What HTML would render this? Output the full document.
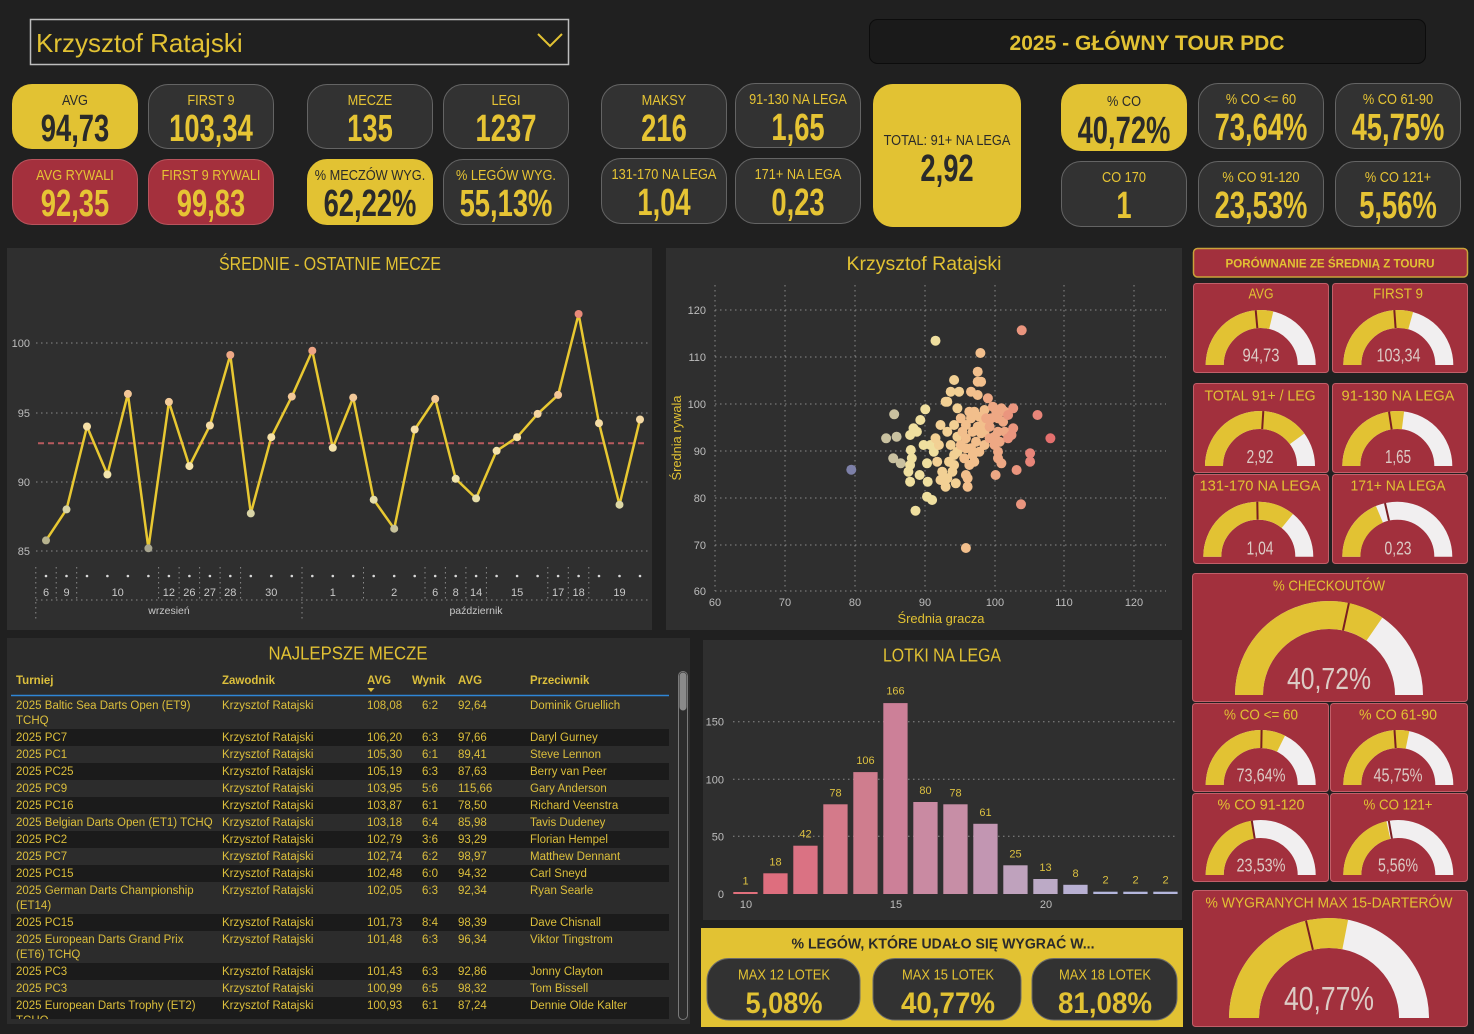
<!DOCTYPE html>
<html><head><meta charset="utf-8">
<style>
body{margin:0;width:1474px;height:1034px;background:#202020;position:relative;overflow:hidden;font-family:"Liberation Sans","DejaVu Sans",sans-serif;}
.a{position:absolute}
.card{position:absolute;border-radius:20px;box-sizing:border-box;text-align:center;color:#e6c434}
.dk{background:#323232;border:1.5px solid #646464}
.yl{background:#e2c233;color:#2a2a2a;border:1.5px solid #e2c233}
.rd{background:#a4303d;border:1.5px solid #b9545d}
.kl{position:absolute;left:-30px;right:-30px;top:7px;font-size:15px;line-height:18px;transform:scaleX(0.85);white-space:nowrap}
.kv{position:absolute;left:-40px;right:-40px;top:25px;font-size:38px;line-height:38px;font-weight:bold;transform:scaleX(0.72);white-space:nowrap}
.tb{position:absolute;left:11px;top:697px;width:658px;height:322px;overflow:hidden;font-size:11.5px;line-height:15px;color:#dcbf3c}
.tr{position:absolute;left:0;width:658px;padding-top:1.5px;box-sizing:border-box}
.tr span{position:absolute;white-space:nowrap}
.dr{background:#1b1b1b}
.c1{left:5px}.c2{left:211px}.c3{left:356px}.c4{left:395px;width:48px;text-align:center}.c5{left:447px}.c6{left:519px}
.th{position:absolute;top:674px;font-size:11.5px;line-height:15px;font-weight:bold;color:#dcbf3c;white-space:nowrap}
</style></head><body>

<svg class="a" style="left:0;top:0" width="1474" height="1034" viewBox="0 0 1474 1034" font-family="Liberation Sans, DejaVu Sans, sans-serif">
<!-- dropdown -->
<rect x="30.5" y="19.5" width="538" height="45" fill="none" stroke="#bdbdbd" stroke-width="1.5"/>
<polyline points="538,34 550,46 562,34" fill="none" stroke="#e2c233" stroke-width="2"/>
<!-- title box -->
<rect x="869.5" y="19.5" width="556" height="44" rx="8" fill="#1a1a1a" stroke="#0c0c0c"/>
<text x="1147" y="50" text-anchor="middle" font-size="21" font-weight="bold" fill="#e2c233" textLength="275" lengthAdjust="spacingAndGlyphs">2025 - GŁÓWNY TOUR PDC</text>

<!-- LINE CHART PANEL -->
<rect x="7" y="248" width="645" height="382" fill="#2f2f2f"/>
<text x="330" y="270" text-anchor="middle" font-size="18" fill="#e2c233" textLength="222" lengthAdjust="spacingAndGlyphs">ŚREDNIE - OSTATNIE MECZE</text>
<g stroke="#8a8a8a" stroke-dasharray="1.5 3.5" stroke-width="1">
<line x1="36" y1="343" x2="648" y2="343"/><line x1="36" y1="413" x2="648" y2="413"/><line x1="36" y1="482" x2="648" y2="482"/><line x1="36" y1="551" x2="648" y2="551"/>
<line x1="36" y1="600" x2="648" y2="600"/>
<line x1="35.8" y1="567" x2="35.8" y2="621"/><line x1="302" y1="567" x2="302" y2="621"/>
<line x1="56.2" y1="567" x2="56.2" y2="600"/><line x1="76.7" y1="567" x2="76.7" y2="600"/><line x1="158.6" y1="567" x2="158.6" y2="600"/><line x1="179.1" y1="567" x2="179.1" y2="600"/><line x1="199.6" y1="567" x2="199.6" y2="600"/><line x1="220.1" y1="567" x2="220.1" y2="600"/><line x1="240.6" y1="567" x2="240.6" y2="600"/><line x1="363.5" y1="567" x2="363.5" y2="600"/><line x1="425" y1="567" x2="425" y2="600"/><line x1="445.4" y1="567" x2="445.4" y2="600"/><line x1="465.9" y1="567" x2="465.9" y2="600"/><line x1="486.4" y1="567" x2="486.4" y2="600"/><line x1="547.8" y1="567" x2="547.8" y2="600"/><line x1="568.3" y1="567" x2="568.3" y2="600"/><line x1="588.8" y1="567" x2="588.8" y2="600"/>
</g>
<g font-size="11" fill="#bdbdbd" text-anchor="end">
<text x="30" y="347">100</text><text x="30" y="417">95</text><text x="30" y="486">90</text><text x="30" y="555">85</text>
</g>
<line x1="38" y1="443.3" x2="648" y2="443.3" stroke="#b85a5e" stroke-width="2" stroke-dasharray="6 4"/>
<polyline fill="none" stroke="#e8c832" stroke-width="2.5" stroke-linejoin="round" points="46,540.4 66.5,509.4 87,426.5 107.4,474.5 127.9,393.9 148.4,548.3 168.9,401.9 189.4,466.1 209.9,425.5 230.3,355 250.8,513.4 271.3,437.2 291.8,396.6 312.3,350.7 332.8,447.8 353.2,397.6 373.7,499.7 394.2,528.7 414.7,429.5 435.2,398.9 455.7,478.8 476.1,498.4 496.6,450.8 517.1,437.2 537.6,413.9 558.1,394.9 578.6,314 599,423.2 619.5,504.7 640,419.5"/>
<g>
<circle cx="46" cy="540.4" r="4" fill="#b7b38f"/><circle cx="66.5" cy="509.4" r="4" fill="#d7d3a5"/><circle cx="87" cy="426.5" r="4" fill="#f6e0a6"/><circle cx="107.4" cy="474.5" r="4" fill="#f3e5ad"/><circle cx="127.9" cy="393.9" r="4" fill="#f2c596"/><circle cx="148.4" cy="548.3" r="4" fill="#a8a690"/><circle cx="168.9" cy="401.9" r="4" fill="#f3cb9a"/><circle cx="189.4" cy="466.1" r="4" fill="#f5e3ab"/><circle cx="209.9" cy="425.5" r="4" fill="#f5dca5"/><circle cx="230.3" cy="355" r="4" fill="#eea886"/><circle cx="250.8" cy="513.4" r="4" fill="#d9d4a6"/><circle cx="271.3" cy="437.2" r="4" fill="#f5e1a8"/><circle cx="291.8" cy="396.6" r="4" fill="#f2c898"/><circle cx="312.3" cy="350.7" r="4" fill="#eda485"/><circle cx="332.8" cy="447.8" r="4" fill="#f5e3aa"/><circle cx="353.2" cy="397.6" r="4" fill="#f2c898"/><circle cx="373.7" cy="499.7" r="4" fill="#e5dda8"/><circle cx="394.2" cy="528.7" r="4" fill="#c7c29b"/><circle cx="414.7" cy="429.5" r="4" fill="#f5dea7"/><circle cx="435.2" cy="398.9" r="4" fill="#f2c898"/><circle cx="455.7" cy="478.8" r="4" fill="#f0e4ab"/><circle cx="476.1" cy="498.4" r="4" fill="#e5dda8"/><circle cx="496.6" cy="450.8" r="4" fill="#f5e3aa"/><circle cx="517.1" cy="437.2" r="4" fill="#f5e1a8"/><circle cx="537.6" cy="413.9" r="4" fill="#f4d5a0"/><circle cx="558.1" cy="394.9" r="4" fill="#f2c596"/><circle cx="578.6" cy="314" r="4" fill="#e88a7a"/><circle cx="599" cy="423.2" r="4" fill="#f5dca5"/><circle cx="619.5" cy="504.7" r="4" fill="#ddd7a6"/><circle cx="640" cy="419.5" r="4" fill="#f4d9a3"/>
</g>
<g fill="#d8d8d8">
<circle cx="46" cy="576" r="1.3"/><circle cx="66.5" cy="576" r="1.3"/><circle cx="87" cy="576" r="1.3"/><circle cx="107.4" cy="576" r="1.3"/><circle cx="127.9" cy="576" r="1.3"/><circle cx="148.4" cy="576" r="1.3"/><circle cx="168.9" cy="576" r="1.3"/><circle cx="189.4" cy="576" r="1.3"/><circle cx="209.9" cy="576" r="1.3"/><circle cx="230.3" cy="576" r="1.3"/><circle cx="250.8" cy="576" r="1.3"/><circle cx="271.3" cy="576" r="1.3"/><circle cx="291.8" cy="576" r="1.3"/><circle cx="312.3" cy="576" r="1.3"/><circle cx="332.8" cy="576" r="1.3"/><circle cx="353.2" cy="576" r="1.3"/><circle cx="373.7" cy="576" r="1.3"/><circle cx="394.2" cy="576" r="1.3"/><circle cx="414.7" cy="576" r="1.3"/><circle cx="435.2" cy="576" r="1.3"/><circle cx="455.7" cy="576" r="1.3"/><circle cx="476.1" cy="576" r="1.3"/><circle cx="496.6" cy="576" r="1.3"/><circle cx="517.1" cy="576" r="1.3"/><circle cx="537.6" cy="576" r="1.3"/><circle cx="558.1" cy="576" r="1.3"/><circle cx="578.6" cy="576" r="1.3"/><circle cx="599" cy="576" r="1.3"/><circle cx="619.5" cy="576" r="1.3"/><circle cx="640" cy="576" r="1.3"/>
</g>
<g font-size="11" fill="#c8c8c8" text-anchor="middle">
<text x="46" y="596">6</text><text x="66.5" y="596">9</text><text x="117.7" y="596">10</text><text x="168.9" y="596">12</text><text x="189.4" y="596">26</text><text x="209.9" y="596">27</text><text x="230.3" y="596">28</text><text x="271.3" y="596">30</text><text x="332.8" y="596">1</text><text x="394.2" y="596">2</text><text x="435.2" y="596">6</text><text x="455.7" y="596">8</text><text x="476.1" y="596">14</text><text x="517.1" y="596">15</text><text x="558.1" y="596">17</text><text x="578.6" y="596">18</text><text x="619.5" y="596">19</text>
<text x="169" y="614" font-size="10.5">wrzesień</text><text x="476" y="614" font-size="10.5">październik</text>
</g>

<!-- SCATTER PANEL -->
<rect x="666" y="248" width="516" height="382" fill="#2f2f2f"/>
<text x="924" y="270" text-anchor="middle" font-size="19" fill="#e2c233" textLength="155" lengthAdjust="spacingAndGlyphs">Krzysztof Ratajski</text>
<g stroke="#8a8a8a" stroke-dasharray="1.5 3.5" stroke-width="1">
<line x1="715" y1="285" x2="715" y2="591"/><line x1="785" y1="285" x2="785" y2="591"/><line x1="855" y1="285" x2="855" y2="591"/><line x1="925" y1="285" x2="925" y2="591"/><line x1="995" y1="285" x2="995" y2="591"/><line x1="1064" y1="285" x2="1064" y2="591"/><line x1="1134" y1="285" x2="1134" y2="591"/>
<line x1="715" y1="310" x2="1166" y2="310"/><line x1="715" y1="357" x2="1166" y2="357"/><line x1="715" y1="404" x2="1166" y2="404"/><line x1="715" y1="451" x2="1166" y2="451"/><line x1="715" y1="498" x2="1166" y2="498"/><line x1="715" y1="545" x2="1166" y2="545"/><line x1="715" y1="591" x2="1166" y2="591"/>
</g>
<g font-size="11" fill="#bdbdbd" text-anchor="end">
<text x="706" y="314">120</text><text x="706" y="361">110</text><text x="706" y="408">100</text><text x="706" y="455">90</text><text x="706" y="502">80</text><text x="706" y="549">70</text><text x="706" y="595">60</text>
</g>
<g font-size="11" fill="#bdbdbd" text-anchor="middle">
<text x="715" y="606">60</text><text x="785" y="606">70</text><text x="855" y="606">80</text><text x="925" y="606">90</text><text x="995" y="606">100</text><text x="1064" y="606">110</text><text x="1134" y="606">120</text>
</g>
<text x="941" y="623" text-anchor="middle" font-size="13" fill="#e2c233" textLength="87" lengthAdjust="spacingAndGlyphs">Średnia gracza</text>
<text x="0" y="0" transform="translate(681 438) rotate(-90)" text-anchor="middle" font-size="13" fill="#e2c233" textLength="85" lengthAdjust="spacingAndGlyphs">Średnia rywala</text>
<g fill="#c9c1a0">
<circle cx="894.2" cy="414.3" r="5"/><circle cx="886.1" cy="438.3" r="5"/><circle cx="896.6" cy="436.7" r="5"/><circle cx="893.2" cy="458.3" r="5"/><circle cx="900.7" cy="463.3" r="5"/>
</g>
<g fill="#efdf9f">
<circle cx="925.3" cy="409.3" r="5"/><circle cx="920.3" cy="420" r="5"/><circle cx="913.5" cy="428.3" r="5"/><circle cx="910.1" cy="435" r="5"/><circle cx="910.8" cy="450" r="5"/><circle cx="911.8" cy="458.3" r="5"/><circle cx="910.1" cy="465" r="5"/><circle cx="908.4" cy="471.7" r="5"/><circle cx="910.1" cy="481.7" r="5"/><circle cx="919.6" cy="475" r="5"/><circle cx="927" cy="463.3" r="5"/><circle cx="930.4" cy="445" r="5"/><circle cx="927.7" cy="481.7" r="5"/><circle cx="927" cy="496.7" r="5"/><circle cx="932.1" cy="500" r="5"/><circle cx="933.8" cy="451.7" r="5"/><circle cx="923.6" cy="445" r="5"/><circle cx="916.9" cy="431.7" r="5"/><circle cx="915.5" cy="510.7" r="5"/><circle cx="935.5" cy="340.7" r="5"/>
</g>
<g fill="#f2d094">
<circle cx="940.5" cy="480" r="5"/><circle cx="945.6" cy="486.7" r="5"/><circle cx="947.3" cy="478.3" r="5"/><circle cx="955.8" cy="483.3" r="5"/><circle cx="940.5" cy="425" r="5"/><circle cx="947.3" cy="431.7" r="5"/><circle cx="950.7" cy="445" r="5"/><circle cx="954.1" cy="455" r="5"/><circle cx="949" cy="461.7" r="5"/><circle cx="952.4" cy="471.7" r="5"/><circle cx="954.1" cy="465" r="5"/><circle cx="938.9" cy="445" r="5"/><circle cx="935.5" cy="438.3" r="5"/><circle cx="945.6" cy="401.7" r="5"/><circle cx="950.7" cy="391.7" r="5"/><circle cx="959.1" cy="391.7" r="5"/><circle cx="954.1" cy="380" r="5"/><circle cx="947.3" cy="401.7" r="5"/><circle cx="957.4" cy="408.3" r="5"/><circle cx="957.4" cy="451.7" r="5"/><circle cx="957.4" cy="436.7" r="5"/><circle cx="954.1" cy="425" r="5"/><circle cx="937.2" cy="461.7" r="5"/><circle cx="942.2" cy="471.7" r="5"/>
</g>
<g fill="#f2bf8c">
<circle cx="960.8" cy="418.3" r="5"/><circle cx="965.9" cy="425" r="5"/><circle cx="971" cy="418.3" r="5"/><circle cx="969.3" cy="411.7" r="5"/><circle cx="974.3" cy="411.7" r="5"/><circle cx="979.4" cy="416.7" r="5"/><circle cx="977.7" cy="426.7" r="5"/><circle cx="972.7" cy="431.7" r="5"/><circle cx="965.9" cy="438.3" r="5"/><circle cx="960.8" cy="445" r="5"/><circle cx="964.2" cy="458.3" r="5"/><circle cx="969.3" cy="465" r="5"/><circle cx="974.3" cy="461.7" r="5"/><circle cx="979.4" cy="451.7" r="5"/><circle cx="984.5" cy="445" r="5"/><circle cx="976" cy="441.7" r="5"/><circle cx="971" cy="448.3" r="5"/><circle cx="967.6" cy="478.3" r="5"/><circle cx="965.9" cy="475" r="5"/><circle cx="967.6" cy="486.7" r="5"/><circle cx="977.7" cy="395" r="5"/><circle cx="977.7" cy="381.7" r="5"/><circle cx="981.1" cy="381.7" r="5"/><circle cx="971" cy="391.7" r="5"/><circle cx="977.7" cy="371.7" r="5"/><circle cx="984.5" cy="431.7" r="5"/><circle cx="984.5" cy="410" r="5"/><circle cx="982.8" cy="425" r="5"/><circle cx="981.1" cy="433.3" r="5"/><circle cx="962.5" cy="431.7" r="5"/><circle cx="965.9" cy="448.3" r="5"/><circle cx="972.7" cy="455" r="5"/><circle cx="980.4" cy="353" r="5"/><circle cx="965.9" cy="548" r="5"/>
</g>
<g fill="#eea884">
<circle cx="987.9" cy="398.3" r="5"/><circle cx="986.2" cy="418.3" r="5"/><circle cx="989.6" cy="438.3" r="5"/><circle cx="994.6" cy="445" r="5"/><circle cx="998" cy="451.7" r="5"/><circle cx="1001.4" cy="463.3" r="5"/><circle cx="998" cy="458.3" r="5"/><circle cx="992.9" cy="406.7" r="5"/><circle cx="996.3" cy="411.7" r="5"/><circle cx="1001.4" cy="408.3" r="5"/><circle cx="1004.8" cy="411.7" r="5"/><circle cx="1003.1" cy="421.7" r="5"/><circle cx="998" cy="431.7" r="5"/><circle cx="1004.8" cy="431.7" r="5"/><circle cx="995.6" cy="475" r="5"/><circle cx="991.2" cy="418.3" r="5"/><circle cx="999.7" cy="441.7" r="5"/><circle cx="994.6" cy="436.7" r="5"/><circle cx="989.6" cy="426.7" r="5"/><circle cx="998" cy="418.3" r="5"/>
</g>
<g fill="#ea957e">
<circle cx="1008.1" cy="415" r="5"/><circle cx="1013.2" cy="408.3" r="5"/><circle cx="1008.1" cy="438.3" r="5"/><circle cx="1011.5" cy="435" r="5"/><circle cx="1013.2" cy="428.3" r="5"/><circle cx="1016.6" cy="470" r="5"/><circle cx="1021.7" cy="330.3" r="5"/><circle cx="1021" cy="504.3" r="5"/>
</g>
<g fill="#e88579"><circle cx="1030.1" cy="453.3" r="5"/><circle cx="1030.1" cy="461.7" r="5"/><circle cx="1037.5" cy="415" r="5"/></g>
<circle cx="1050.4" cy="438.3" r="5" fill="#e4706e"/>
<circle cx="851.3" cy="469.7" r="5" fill="#7d80a8"/>

<!-- TABLE PANEL -->
<rect x="7" y="638" width="683" height="386" fill="#2c2c2c"/>
<text x="348" y="659.5" text-anchor="middle" font-size="18" fill="#e2c233" textLength="159" lengthAdjust="spacingAndGlyphs">NAJLEPSZE MECZE</text>
<line x1="11" y1="695.5" x2="669" y2="695.5" stroke="#2f86d6" stroke-width="1.5"/>
<polygon points="367.5,688 374.5,688 371,692" fill="#dcbf3c"/>
<rect x="678.5" y="671.5" width="9" height="348" rx="4.5" fill="#2c2c2c" stroke="#7a7a7a"/>
<rect x="679.5" y="672.5" width="7" height="38" rx="3.5" fill="#8a8a8a"/>

<!-- BAR PANEL -->
<rect x="703" y="640" width="479" height="280" fill="#2f2f2f"/>
<text x="942" y="661.5" text-anchor="middle" font-size="18" fill="#e2c233" textLength="118" lengthAdjust="spacingAndGlyphs">LOTKI NA LEGA</text>
<g stroke="#8a8a8a" stroke-dasharray="1.5 3.5" stroke-width="1">
<line x1="733" y1="721.7" x2="1175" y2="721.7"/><line x1="733" y1="779.3" x2="1175" y2="779.3"/><line x1="733" y1="836.3" x2="1175" y2="836.3"/>
</g>
<g font-size="11" fill="#bdbdbd" text-anchor="end">
<text x="724" y="725.7">150</text><text x="724" y="783.3">100</text><text x="724" y="840.3">50</text><text x="724" y="898">0</text>
</g>
<g font-size="11" fill="#bdbdbd" text-anchor="middle">
<text x="746" y="908">10</text><text x="896" y="908">15</text><text x="1046" y="908">20</text>
</g>
<rect x="733.3" y="892" width="24.3" height="2" fill="#e0707c"/>
<rect x="763.3" y="873.3" width="24.3" height="20.7" fill="#de6e7e"/>
<rect x="793.3" y="845.7" width="24.3" height="48.3" fill="#da7283"/>
<rect x="823.3" y="804.3" width="24.3" height="89.7" fill="#d47a8a"/>
<rect x="853.3" y="772.1" width="24.3" height="121.9" fill="#cf7d8e"/>
<rect x="883.3" y="703.1" width="24.3" height="190.9" fill="#cc8098"/>
<rect x="913.3" y="802" width="24.3" height="92" fill="#c98aa2"/>
<rect x="943.3" y="804.3" width="24.3" height="89.7" fill="#c78ea6"/>
<rect x="973.3" y="823.8" width="24.3" height="70.2" fill="#c296b2"/>
<rect x="1003.3" y="865.3" width="24.3" height="28.7" fill="#bfa2bd"/>
<rect x="1033.3" y="879" width="24.3" height="15" fill="#bcaac6"/>
<rect x="1063.3" y="884.8" width="24.3" height="9.2" fill="#b8b0d2"/>
<rect x="1093.3" y="891.7" width="24.3" height="2.3" fill="#b4b6dc"/>
<rect x="1123.3" y="891.7" width="24.3" height="2.3" fill="#b4b6dc"/>
<rect x="1153.3" y="891.7" width="24.3" height="2.3" fill="#b4b6dc"/>
<g font-size="11" fill="#dcc040" text-anchor="middle">
<text x="745.5" y="884.5">1</text><text x="775.5" y="865.3">18</text><text x="805.5" y="837.7">42</text><text x="835.5" y="796.3">78</text><text x="865.5" y="764.1">106</text><text x="895.5" y="694.5">166</text><text x="925.5" y="794">80</text><text x="955.5" y="796.3">78</text><text x="985.5" y="815.8">61</text><text x="1015.5" y="857.3">25</text><text x="1045.5" y="871">13</text><text x="1075.5" y="876.8">8</text><text x="1105.5" y="883.7">2</text><text x="1135.5" y="883.7">2</text><text x="1165.5" y="883.7">2</text>
</g>

<!-- BOTTOM YELLOW -->
<rect x="701" y="928" width="482" height="99" fill="#e2c233"/>
<text x="943" y="948.5" text-anchor="middle" font-size="15" font-weight="bold" fill="#2a2a2a" textLength="303" lengthAdjust="spacingAndGlyphs">% LEGÓW, KTÓRE UDAŁO SIĘ WYGRAĆ W...</text>
<rect x="707" y="958.5" width="153" height="61.5" rx="22" fill="#323232" stroke="#6a6a6a"/>
<rect x="873" y="958.5" width="148" height="61.5" rx="22" fill="#323232" stroke="#6a6a6a"/>
<rect x="1032" y="958.5" width="145" height="61.5" rx="22" fill="#323232" stroke="#6a6a6a"/>
<g font-size="15" fill="#e2c233" text-anchor="middle">
<text x="784" y="979.5" textLength="92" lengthAdjust="spacingAndGlyphs">MAX 12 LOTEK</text>
<text x="948" y="979.5" textLength="92" lengthAdjust="spacingAndGlyphs">MAX 15 LOTEK</text>
<text x="1105" y="979.5" textLength="92" lengthAdjust="spacingAndGlyphs">MAX 18 LOTEK</text>
</g>
<g font-size="30" font-weight="bold" fill="#e2c233" text-anchor="middle">
<text x="784" y="1013" textLength="77" lengthAdjust="spacingAndGlyphs">5,08%</text>
<text x="948" y="1013" textLength="94" lengthAdjust="spacingAndGlyphs">40,77%</text>
<text x="1105" y="1013" textLength="94" lengthAdjust="spacingAndGlyphs">81,08%</text>
</g>

<!-- RIGHT GAUGES -->
<rect x="1193.5" y="248.5" width="274" height="28.5" rx="4" fill="#a2303d" stroke="#c9a23a" stroke-width="1.5"/>
<text x="1330" y="267.5" text-anchor="middle" font-size="12" font-weight="bold" fill="#e2c233" textLength="209" lengthAdjust="spacingAndGlyphs">PORÓWNANIE ZE ŚREDNIĄ Z TOURU</text>
<g fill="#a2303d" stroke="#c15f69" stroke-width="1">
<rect x="1193.5" y="283.5" width="135" height="89" rx="3"/><rect x="1332.5" y="283.5" width="135" height="89" rx="3"/>
<rect x="1193.5" y="383.5" width="135" height="89" rx="3"/><rect x="1332.5" y="383.5" width="135" height="89" rx="3"/>
<rect x="1193.5" y="474.5" width="135" height="89" rx="3"/><rect x="1332.5" y="474.5" width="135" height="89" rx="3"/>
<rect x="1192.5" y="573.5" width="275" height="128" rx="3"/>
<rect x="1192.5" y="703.5" width="136" height="88" rx="3"/><rect x="1330.5" y="703.5" width="137" height="88" rx="3"/>
<rect x="1192.5" y="793.5" width="136" height="88" rx="3"/><rect x="1330.5" y="793.5" width="137" height="88" rx="3"/>
<rect x="1192.5" y="890.5" width="275" height="136" rx="3"/>
</g>
<g fill="none" stroke-width="18">
<path d="M1214.7 365 A46 46 0 0 1 1306.7 365" stroke="#f1eff0"/><path d="M1214.7 365 A46 46 0 0 1 1306.7 365" stroke="#e2c233" stroke-dasharray="82.8 500"/>
<path d="M1352.3 365 A46 46 0 0 1 1444.3 365" stroke="#f1eff0"/><path d="M1352.3 365 A46 46 0 0 1 1444.3 365" stroke="#e2c233" stroke-dasharray="84.7 500"/>
<path d="M1214 466 A46 46 0 0 1 1306 466" stroke="#f1eff0"/><path d="M1214 466 A46 46 0 0 1 1306 466" stroke="#e2c233" stroke-dasharray="115.2 500"/>
<path d="M1351.3 466 A46 46 0 0 1 1443.3 466" stroke="#f1eff0"/><path d="M1351.3 466 A46 46 0 0 1 1443.3 466" stroke="#e2c233" stroke-dasharray="77.9 500"/>
<path d="M1212.3 556.7 A46 46 0 0 1 1304.3 556.7" stroke="#f1eff0"/><path d="M1212.3 556.7 A46 46 0 0 1 1304.3 556.7" stroke="#e2c233" stroke-dasharray="103.5 500"/>
<path d="M1351.3 556.7 A46 46 0 0 1 1443.3 556.7" stroke="#f1eff0"/><path d="M1351.3 556.7 A46 46 0 0 1 1443.3 556.7" stroke="#e2c233" stroke-dasharray="53.8 500"/>
<path d="M1214.7 785 A46 46 0 0 1 1306.7 785" stroke="#f1eff0"/><path d="M1214.7 785 A46 46 0 0 1 1306.7 785" stroke="#e2c233" stroke-dasharray="93.2 500"/>
<path d="M1352.3 785 A46 46 0 0 1 1444.3 785" stroke="#f1eff0"/><path d="M1352.3 785 A46 46 0 0 1 1444.3 785" stroke="#e2c233" stroke-dasharray="81.4 500"/>
<path d="M1214.7 875 A46 46 0 0 1 1306.7 875" stroke="#f1eff0"/><path d="M1214.7 875 A46 46 0 0 1 1306.7 875" stroke="#e2c233" stroke-dasharray="64.3 500"/>
<path d="M1352.3 875 A46 46 0 0 1 1444.3 875" stroke="#f1eff0"/><path d="M1352.3 875 A46 46 0 0 1 1444.3 875" stroke="#e2c233" stroke-dasharray="62.1 500"/>
</g>
<g fill="none" stroke-width="28">
<path d="M1249 695 A80 80 0 0 1 1409 695" stroke="#f1eff0"/><path d="M1249 695 A80 80 0 0 1 1409 695" stroke="#e2c233" stroke-dasharray="173.9 500"/>
</g>
<g fill="none" stroke-width="30">
<path d="M1244 1018 A85 85 0 0 1 1414 1018" stroke="#f1eff0"/><path d="M1244 1018 A85 85 0 0 1 1414 1018" stroke="#e2c233" stroke-dasharray="149.8 500"/>
</g>
<g stroke="#7a1e22" stroke-width="2">
<line x1="1257.35" y1="328.15" x2="1255.7" y2="310.2"/>
<line x1="1395.6" y1="328.1" x2="1394.3" y2="310.1"/>
<line x1="1262.2" y1="429.1" x2="1263.3" y2="411.1"/>
<line x1="1391.7" y1="429.4" x2="1389" y2="411.6"/>
<line x1="1257.6" y1="519.7" x2="1257.3" y2="501.7"/>
<line x1="1389" y1="520.6" x2="1385" y2="503.1"/>
<line x1="1343" y1="630.5" x2="1348.9" y2="603.1"/>
<line x1="1261.3" y1="748" x2="1261.6" y2="730"/>
<line x1="1395.7" y1="748.1" x2="1394.5" y2="730.1"/>
<line x1="1254.7" y1="838.5" x2="1251.8" y2="820.7"/>
<line x1="1391.9" y1="838.6" x2="1388.8" y2="820.8"/>
<line x1="1312.9" y1="949.9" x2="1306" y2="920.7"/>
</g>
<g font-size="15" fill="#e2c233" text-anchor="middle">
<text x="1261" y="298.5" textLength="25" lengthAdjust="spacingAndGlyphs">AVG</text>
<text x="1398" y="298.5" textLength="50" lengthAdjust="spacingAndGlyphs">FIRST 9</text>
<text x="1260" y="400.5" textLength="111" lengthAdjust="spacingAndGlyphs">TOTAL 91+ / LEG</text>
<text x="1398" y="400.5" textLength="113" lengthAdjust="spacingAndGlyphs">91-130 NA LEGA</text>
<text x="1260" y="490.5" textLength="121" lengthAdjust="spacingAndGlyphs">131-170 NA LEGA</text>
<text x="1398" y="490.5" textLength="95" lengthAdjust="spacingAndGlyphs">171+ NA LEGA</text>
<text x="1329" y="590.5" textLength="112" lengthAdjust="spacingAndGlyphs">% CHECKOUTÓW</text>
<text x="1261" y="719.5" textLength="74" lengthAdjust="spacingAndGlyphs">% CO &lt;= 60</text>
<text x="1398" y="719.5" textLength="78" lengthAdjust="spacingAndGlyphs">% CO 61-90</text>
<text x="1261" y="809.5" textLength="87" lengthAdjust="spacingAndGlyphs">% CO 91-120</text>
<text x="1398" y="809.5" textLength="69" lengthAdjust="spacingAndGlyphs">% CO 121+</text>
<text x="1329" y="907.5" textLength="247" lengthAdjust="spacingAndGlyphs">% WYGRANYCH MAX 15-DARTERÓW</text>
</g>
<g font-size="18" fill="#dccbc5" text-anchor="middle">
<text x="1261" y="361.5" textLength="37" lengthAdjust="spacingAndGlyphs">94,73</text>
<text x="1398.5" y="361.5" textLength="44" lengthAdjust="spacingAndGlyphs">103,34</text>
<text x="1260" y="463" textLength="27" lengthAdjust="spacingAndGlyphs">2,92</text>
<text x="1398" y="463" textLength="26" lengthAdjust="spacingAndGlyphs">1,65</text>
<text x="1260" y="554.5" textLength="27" lengthAdjust="spacingAndGlyphs">1,04</text>
<text x="1398" y="554.5" textLength="27" lengthAdjust="spacingAndGlyphs">0,23</text>
<text x="1261" y="781.5" textLength="49" lengthAdjust="spacingAndGlyphs">73,64%</text>
<text x="1398" y="781.5" textLength="49" lengthAdjust="spacingAndGlyphs">45,75%</text>
<text x="1261" y="871.5" textLength="49" lengthAdjust="spacingAndGlyphs">23,53%</text>
<text x="1398" y="871.5" textLength="40" lengthAdjust="spacingAndGlyphs">5,56%</text>
<text x="1329" y="689" font-size="31" textLength="84" lengthAdjust="spacingAndGlyphs">40,72%</text>
<text x="1329" y="1010" font-size="33" textLength="90" lengthAdjust="spacingAndGlyphs">40,77%</text>
</g>
</svg>

<!-- dropdown text -->
<div class="a" style="left:36px;top:27px;font-size:26px;line-height:32px;color:#e2c233;white-space:nowrap">Krzysztof Ratajski</div>

<!-- KPI CARDS -->
<div class="card yl" style="left:12px;top:84px;width:126px;height:65px"><div class="kl">AVG</div><div class="kv">94,73</div></div>
<div class="card dk" style="left:148px;top:84px;width:126px;height:65px"><div class="kl">FIRST 9</div><div class="kv">103,34</div></div>
<div class="card rd" style="left:12px;top:159px;width:126px;height:66px"><div class="kl">AVG RYWALI</div><div class="kv">92,35</div></div>
<div class="card rd" style="left:148px;top:159px;width:126px;height:66px"><div class="kl">FIRST 9 RYWALI</div><div class="kv">99,83</div></div>

<div class="card dk" style="left:307px;top:84px;width:126px;height:65px"><div class="kl">MECZE</div><div class="kv">135</div></div>
<div class="card dk" style="left:443px;top:84px;width:126px;height:65px"><div class="kl">LEGI</div><div class="kv">1237</div></div>
<div class="card yl" style="left:307px;top:159px;width:126px;height:66px"><div class="kl">% MECZÓW WYG.</div><div class="kv">62,22%</div></div>
<div class="card dk" style="left:443px;top:159px;width:126px;height:66px"><div class="kl">% LEGÓW WYG.</div><div class="kv">55,13%</div></div>

<div class="card dk" style="left:601px;top:84px;width:126px;height:65px"><div class="kl">MAKSY</div><div class="kv">216</div></div>
<div class="card dk" style="left:735px;top:83px;width:126px;height:65px"><div class="kl">91-130 NA LEGA</div><div class="kv">1,65</div></div>
<div class="card dk" style="left:601px;top:158px;width:126px;height:66px"><div class="kl">131-170 NA LEGA</div><div class="kv">1,04</div></div>
<div class="card dk" style="left:735px;top:158px;width:126px;height:66px"><div class="kl">171+ NA LEGA</div><div class="kv">0,23</div></div>

<div class="card yl" style="left:873px;top:84px;width:148px;height:143px"><div class="kl" style="top:47px">TOTAL: 91+ NA LEGA</div><div class="kv" style="top:65px">2,92</div></div>

<div class="card yl" style="left:1061px;top:84px;width:126px;height:67px"><div class="kl" style="top:8px">% CO</div><div class="kv" style="top:27px">40,72%</div></div>
<div class="card dk" style="left:1198px;top:83px;width:126px;height:66px"><div class="kl">% CO &lt;= 60</div><div class="kv">73,64%</div></div>
<div class="card dk" style="left:1335px;top:83px;width:126px;height:66px"><div class="kl">% CO 61-90</div><div class="kv">45,75%</div></div>
<div class="card dk" style="left:1061px;top:161px;width:126px;height:66px"><div class="kl">CO 170</div><div class="kv">1</div></div>
<div class="card dk" style="left:1198px;top:161px;width:126px;height:66px"><div class="kl">% CO 91-120</div><div class="kv">23,53%</div></div>
<div class="card dk" style="left:1335px;top:161px;width:126px;height:66px"><div class="kl">% CO 121+</div><div class="kv">5,56%</div></div>

<!-- TABLE -->
<div class="th" style="left:16px">Turniej</div>
<div class="th" style="left:222px">Zawodnik</div>
<div class="th" style="left:367px">AVG</div>
<div class="th" style="left:412px">Wynik</div>
<div class="th" style="left:458px">AVG</div>
<div class="th" style="left:530px">Przeciwnik</div>
<div class="tb">
<div class="tr" style="top:0;height:32px"><span class="c1">2025 Baltic Sea Darts Open (ET9)<br>TCHQ</span><span class="c2">Krzysztof Ratajski</span><span class="c3">108,08</span><span class="c4">6:2</span><span class="c5">92,64</span><span class="c6">Dominik Gruellich</span></div>
<div class="tr dr" style="top:32px;height:17px"><span class="c1">2025 PC7</span><span class="c2">Krzysztof Ratajski</span><span class="c3">106,20</span><span class="c4">6:3</span><span class="c5">97,66</span><span class="c6">Daryl Gurney</span></div>
<div class="tr" style="top:49px;height:17px"><span class="c1">2025 PC1</span><span class="c2">Krzysztof Ratajski</span><span class="c3">105,30</span><span class="c4">6:1</span><span class="c5">89,41</span><span class="c6">Steve Lennon</span></div>
<div class="tr dr" style="top:66px;height:17px"><span class="c1">2025 PC25</span><span class="c2">Krzysztof Ratajski</span><span class="c3">105,19</span><span class="c4">6:3</span><span class="c5">87,63</span><span class="c6">Berry van Peer</span></div>
<div class="tr" style="top:83px;height:17px"><span class="c1">2025 PC9</span><span class="c2">Krzysztof Ratajski</span><span class="c3">103,95</span><span class="c4">5:6</span><span class="c5">115,66</span><span class="c6">Gary Anderson</span></div>
<div class="tr dr" style="top:100px;height:17px"><span class="c1">2025 PC16</span><span class="c2">Krzysztof Ratajski</span><span class="c3">103,87</span><span class="c4">6:1</span><span class="c5">78,50</span><span class="c6">Richard Veenstra</span></div>
<div class="tr" style="top:117px;height:17px"><span class="c1">2025 Belgian Darts Open (ET1) TCHQ</span><span class="c2">Krzysztof Ratajski</span><span class="c3">103,18</span><span class="c4">6:4</span><span class="c5">85,98</span><span class="c6">Tavis Dudeney</span></div>
<div class="tr dr" style="top:134px;height:17px"><span class="c1">2025 PC2</span><span class="c2">Krzysztof Ratajski</span><span class="c3">102,79</span><span class="c4">3:6</span><span class="c5">93,29</span><span class="c6">Florian Hempel</span></div>
<div class="tr" style="top:151px;height:17px"><span class="c1">2025 PC7</span><span class="c2">Krzysztof Ratajski</span><span class="c3">102,74</span><span class="c4">6:2</span><span class="c5">98,97</span><span class="c6">Matthew Dennant</span></div>
<div class="tr dr" style="top:168px;height:17px"><span class="c1">2025 PC15</span><span class="c2">Krzysztof Ratajski</span><span class="c3">102,48</span><span class="c4">6:0</span><span class="c5">94,32</span><span class="c6">Carl Sneyd</span></div>
<div class="tr" style="top:185px;height:32px"><span class="c1">2025 German Darts Championship<br>(ET14)</span><span class="c2">Krzysztof Ratajski</span><span class="c3">102,05</span><span class="c4">6:3</span><span class="c5">92,34</span><span class="c6">Ryan Searle</span></div>
<div class="tr dr" style="top:217px;height:17px"><span class="c1">2025 PC15</span><span class="c2">Krzysztof Ratajski</span><span class="c3">101,73</span><span class="c4">8:4</span><span class="c5">98,39</span><span class="c6">Dave Chisnall</span></div>
<div class="tr" style="top:234px;height:32px"><span class="c1">2025 European Darts Grand Prix<br>(ET6) TCHQ</span><span class="c2">Krzysztof Ratajski</span><span class="c3">101,48</span><span class="c4">6:3</span><span class="c5">96,34</span><span class="c6">Viktor Tingstrom</span></div>
<div class="tr dr" style="top:266px;height:17px"><span class="c1">2025 PC3</span><span class="c2">Krzysztof Ratajski</span><span class="c3">101,43</span><span class="c4">6:3</span><span class="c5">92,86</span><span class="c6">Jonny Clayton</span></div>
<div class="tr" style="top:283px;height:17px"><span class="c1">2025 PC3</span><span class="c2">Krzysztof Ratajski</span><span class="c3">100,99</span><span class="c4">6:5</span><span class="c5">98,32</span><span class="c6">Tom Bissell</span></div>
<div class="tr dr" style="top:300px;height:32px"><span class="c1">2025 European Darts Trophy (ET2)<br>TCHQ</span><span class="c2">Krzysztof Ratajski</span><span class="c3">100,93</span><span class="c4">6:1</span><span class="c5">87,24</span><span class="c6">Dennie Olde Kalter</span></div>
</div>
</body></html>
